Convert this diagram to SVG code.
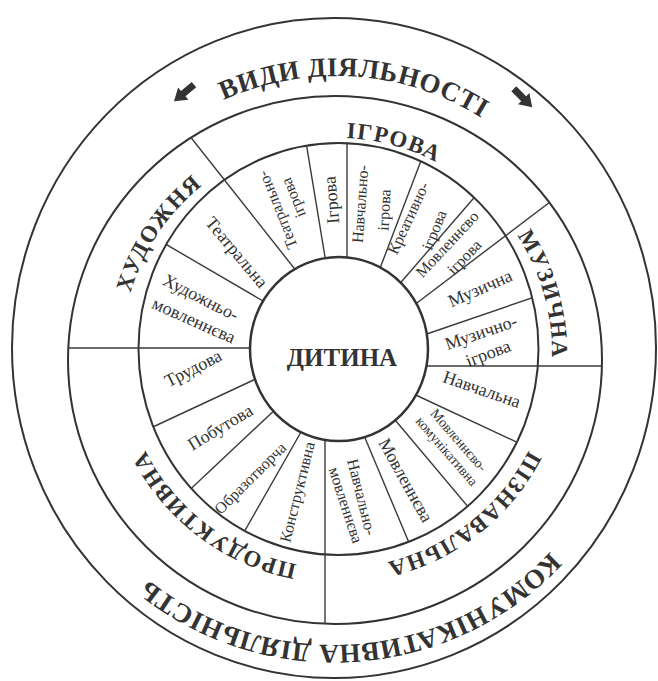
<svg xmlns="http://www.w3.org/2000/svg" width="658" height="681" viewBox="0 0 658 681">
<style>
.ring{fill:none;stroke:#333;stroke-width:2}
.sep{stroke:#3a3a3a;stroke-width:1.4;fill:none}
.sub{font-family:"Liberation Serif","Times New Roman",serif;font-size:18px;fill:#333;text-anchor:middle}
.sm{font-size:16px}
.cat{font-family:"Liberation Serif","Times New Roman",serif;font-weight:bold;font-size:23px;fill:#333;text-anchor:middle;letter-spacing:1.5px}
.out{font-family:"Liberation Serif","Times New Roman",serif;font-weight:bold;font-size:27px;fill:#333;text-anchor:middle;letter-spacing:0.5px}
.core{font-family:"Liberation Serif","Times New Roman",serif;font-weight:bold;font-size:25px;fill:#333;text-anchor:middle}
.arr{fill:#333}
</style>
<defs>
<clipPath id="clipMid"><ellipse cx="338.5" cy="349" rx="200" ry="206"/></clipPath>
<clipPath id="clipOut"><ellipse cx="335" cy="360" rx="267" ry="264"/></clipPath>
<path id="catPath" d="M122,353 A215,215 0 1,1 552,353 A215,215 0 1,1 122,353"/>
<path id="topPath" d="M78.5,443.7 A274,274 0 1,1 593.5,443.7"/>
<path id="botPath" d="M613.1,246.4 A297,297 0 1,1 54.9,246.4"/>
</defs>

<g id="rings">
<ellipse class="ring" cx="334" cy="348" rx="322" ry="330"/>
<ellipse class="ring" cx="335" cy="360" rx="267" ry="264"/>
<ellipse class="ring" cx="338.5" cy="349" rx="200" ry="206"/>
</g>

<g id="connectors">
<g clip-path="url(#clipOut)">
<line class="sep" x1="170" y1="111" x2="305" y2="282"/>
<line class="sep" x1="575" y1="183" x2="405" y2="312"/>
<line class="sep" x1="415" y1="366" x2="620" y2="366"/>
<line class="sep" x1="325" y1="430" x2="325" y2="640"/>
<line class="sep" x1="50" y1="348" x2="260" y2="348"/>
</g>
<g clip-path="url(#clipMid)">
<line class="sep" x1="150" y1="235" x2="275" y2="308"/>
<line class="sep" x1="304" y1="130" x2="328" y2="275"/>
<line class="sep" x1="347" y1="130" x2="347" y2="275"/>
<line class="sep" x1="427" y1="145" x2="374" y2="284"/>
<line class="sep" x1="485" y1="185" x2="390" y2="295"/>
<line class="sep" x1="555" y1="290" x2="415" y2="338"/>
<line class="sep" x1="405" y1="390" x2="540" y2="453"/>
<line class="sep" x1="385" y1="408" x2="480" y2="521"/>
<line class="sep" x1="360" y1="426" x2="415" y2="557"/>
<line class="sep" x1="305" y1="425" x2="235" y2="548"/>
<line class="sep" x1="280" y1="405" x2="180" y2="499"/>
<line class="sep" x1="140" y1="433" x2="275" y2="370"/>
</g>
</g>

<g id="child">
<ellipse cx="339" cy="349" rx="89" ry="92" fill="#fff" stroke="#333" stroke-width="2.5"/>
<text class="core" x="342" y="366">ДИТИНА</text>
</g>

<g id="title">
<text class="out"><textPath href="#topPath" startOffset="51.8%">ВИДИ ДІЯЛЬНОСТІ</textPath></text>
<polygon class="arr" transform="translate(184,93) rotate(140)" points="-13,-3.5 1,-3.5 1,-8 13,0 1,8 1,3.5 -13,3.5"/>
<polygon class="arr" transform="translate(523,98) rotate(45)" points="-13,-3.5 1,-3.5 1,-8 13,0 1,8 1,3.5 -13,3.5"/>
</g>

<g id="communicative">
<text class="out"><textPath href="#botPath" startOffset="48.2%">КОМУНІКАТИВНА ДІЯЛЬНІСТЬ</textPath></text>
</g>

<g id="cat-igrova"><text class="cat"><textPath href="#catPath" startOffset="29.2%">ІГРОВА</textPath></text></g>
<g id="cat-muzychna"><text class="cat"><textPath href="#catPath" startOffset="45.6%">МУЗИЧНА</textPath></text></g>
<g id="cat-piznavalna"><text class="cat"><textPath href="#catPath" startOffset="64.4%">ПІЗНАВАЛЬНА</textPath></text></g>
<g id="cat-produktyvna"><text class="cat"><textPath href="#catPath" startOffset="85.3%">ПРОДУКТИВНА</textPath></text></g>
<g id="cat-khudozhnia"><text class="cat"><textPath href="#catPath" startOffset="9.4%">ХУДОЖНЯ</textPath></text></g>

<g id="sub-teatralna"><text class="sub" dy="0.35em" transform="translate(237,252) rotate(50)">Театральна</text></g>
<g id="sub-khud-movl"><text class="sub" dy="0.35em" transform="translate(201,297) rotate(27)">Художньо-</text><text class="sub" dy="0.35em" transform="translate(194,320) rotate(24)">мовленнєва</text></g>
<g id="sub-trudova"><text class="sub" dy="0.35em" transform="translate(193,368) rotate(-27)">Трудова</text></g>
<g id="sub-pobutova"><text class="sub" dy="0.35em" transform="translate(220,427) rotate(-31)">Побутова</text></g>
<g id="sub-obrazotvorcha"><text class="sub sm" dy="0.35em" transform="translate(250,478) rotate(-45)">Образотворча</text></g>
<g id="sub-konstruktyvna"><text class="sub sm" dy="0.35em" transform="translate(297,492) rotate(-76)">Конструктивна</text></g>
<g id="sub-navch-movl"><text class="sub sm" dy="0.35em" transform="translate(362,497) rotate(76)">Навчально-</text><text class="sub sm" dy="0.35em" transform="translate(346,505) rotate(72)">мовленнєва</text></g>
<g id="sub-movlenneva"><text class="sub" dy="0.35em" transform="translate(406,480) rotate(61)">Мовленнєва</text></g>
<g id="sub-movl-komun"><text class="sub" dy="0.35em" style="font-size:14px" transform="translate(459,440) rotate(49)">Мовленнєво-</text><text class="sub" dy="0.35em" style="font-size:14px" transform="translate(447,451) rotate(49)">комунікативна</text></g>
<g id="sub-navchalna"><text class="sub" dy="0.35em" transform="translate(482,389) rotate(19)">Навчальна</text></g>
<g id="sub-muz-igrova"><text class="sub" dy="0.35em" transform="translate(481,332) rotate(-19)">Музично-</text><text class="sub" dy="0.35em" transform="translate(488,353) rotate(-21)">ігрова</text></g>
<g id="sub-muzychna"><text class="sub" dy="0.35em" transform="translate(480,288) rotate(-24)">Музична</text></g>
<g id="sub-movl-igrova"><text class="sub sm" dy="0.35em" transform="translate(447,244) rotate(-47)">Мовленнєво</text><text class="sub sm" dy="0.35em" transform="translate(464,257) rotate(-46)">ігрова</text></g>
<g id="sub-kreat-igrova"><text class="sub sm" dy="0.35em" transform="translate(408,218) rotate(-65)">Креативно-</text><text class="sub sm" dy="0.35em" transform="translate(434,230) rotate(-68)">ігрова</text></g>
<g id="sub-navch-igrova"><text class="sub sm" dy="0.35em" transform="translate(360,204) rotate(-86)">Навчально-</text><text class="sub sm" dy="0.35em" transform="translate(384,210) rotate(-87)">ігрова</text></g>
<g id="sub-igrova"><text class="sub" dy="0.35em" transform="translate(331,200) rotate(-95)">Ігрова</text></g>
<g id="sub-teatr-igrova"><text class="sub sm" dy="0.35em" transform="translate(277,210) rotate(-112)">Театрально-</text><text class="sub sm" dy="0.35em" transform="translate(293,198) rotate(-112)">ігрова</text></g>
</svg>
